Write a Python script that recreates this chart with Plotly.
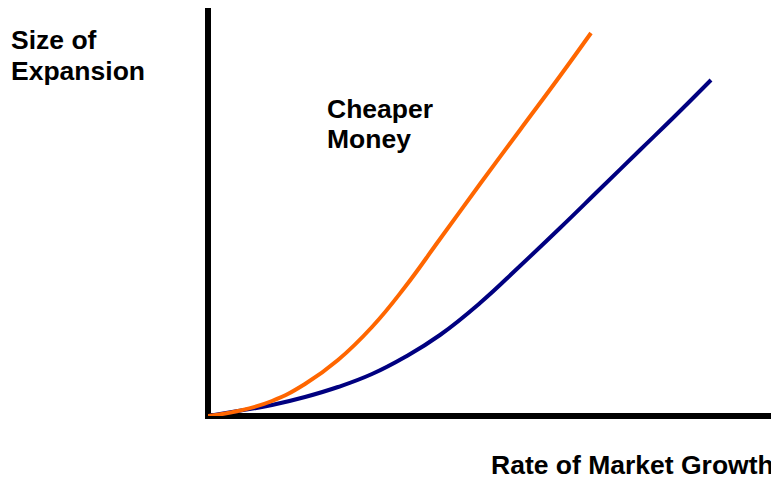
import plotly.graph_objects as go

# Data (arbitrary units: x = rate of market growth, y = size of expansion)
cheap_x = [0, 30, 64, 97, 130, 164, 197, 232, 272, 312, 352, 383]
cheap_y = [0, 5, 15, 32, 56, 89, 129, 177, 232, 286, 340, 383]
base_x = [0, 30, 64, 97, 130, 164, 197, 232, 272, 312, 352, 392, 432, 467, 503]
base_y = [0, 5, 11, 19, 29, 42, 59, 81, 113, 150, 188, 227, 266, 300, 336]

# page body has an 8px margin, so the figure is 8px smaller than the window
W, H = 771, 475
L, R, T, B = 200, 0, 0, 67
PW, PH = W - L - R, H - T - B


def px(x):
    return (x - L) / PW


def py(y):
    return (H - B - y) / PH


fig = go.Figure()
fig.add_trace(go.Scatter(x=base_x, y=base_y, mode="lines",
                         line=dict(color="#000080", width=4, shape="spline", smoothing=1.3),
                         showlegend=False, hoverinfo="skip", cliponaxis=False))
fig.add_trace(go.Scatter(x=cheap_x, y=cheap_y, mode="lines",
                         line=dict(color="#FF6600", width=4, shape="spline", smoothing=1.3),
                         showlegend=False, hoverinfo="skip", cliponaxis=False))

font = dict(family="Arial, Liberation Sans, sans-serif", size=26.5, color="black")


def label(text, x, y, xanchor="left"):
    return dict(text="<b>" + text + "</b>", xref="paper", yref="paper",
                x=px(x), y=py(y), xanchor=xanchor, yanchor="middle",
                showarrow=False, font=font)


fig.update_layout(
    width=W, height=H,
    margin=dict(l=L, r=R, t=T, b=B),
    paper_bgcolor="white", plot_bgcolor="white",
    xaxis=dict(range=[0, PW], visible=False, fixedrange=True),
    yaxis=dict(range=[0, PH], visible=False, fixedrange=True),
    shapes=[
        dict(type="line", xref="paper", yref="paper", x0=0, x1=0, y0=0, y1=1,
             line=dict(color="black", width=6), layer="below"),
        dict(type="line", xref="paper", yref="paper", x0=px(197), x1=1, y0=0, y1=0,
             line=dict(color="black", width=6), layer="below"),
    ],
    annotations=[
        label("Size of", 1, 32),
        label("Expansion", 1, 63),
        label("Cheaper", 317, 101),
        label("Money", 317, 131),
        label("Rate of Market Growth", 768, 456.5, xanchor="right"),
    ],
)

fig.write_html("out.html")
